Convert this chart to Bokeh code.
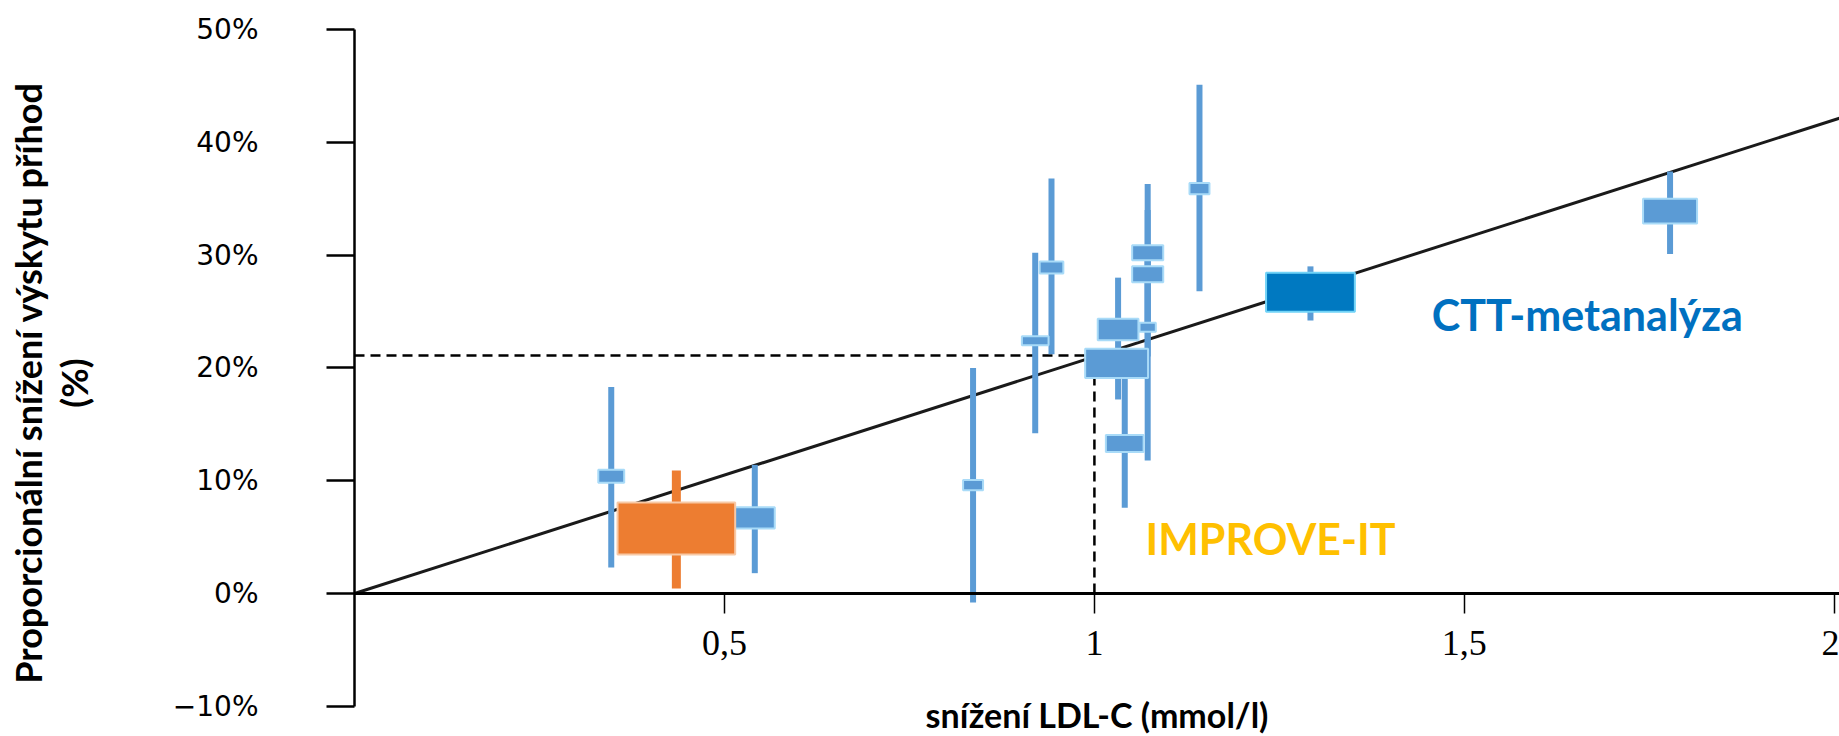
from bokeh.plotting import figure
from bokeh.models import Range1d, LinearAxis, FixedTicker, Label
from bokeh.embed import file_html
from bokeh.resources import INLINE

# ---- data ----
# individual statin trials (blue)
trial_ldl = [0.347, 0.541, 0.836, 0.920, 0.942, 1.030, 1.032, 1.041, 1.072, 1.072, 1.072, 1.142, 1.778]
trial_rr = [10.4, 6.7, 9.6, 22.4, 28.9, 20.4, 23.4, 13.3, 30.2, 28.3, 23.6, 35.9, 33.9]
trial_lo = [2.3, 1.8, -0.8, 14.2, 21.2, 19.3, 17.2, 7.6, 24.0, 21.0, 11.8, 26.8, 30.1]
trial_hi = [18.3, 11.4, 20.0, 30.2, 36.8, 21.5, 28.0, 19.5, 36.3, 34.0, 30.0, 45.1, 37.4]
trial_box_w = [0.035, 0.054, 0.027, 0.036, 0.032, 0.085, 0.055, 0.051, 0.042, 0.042, 0.022, 0.027, 0.073]
trial_box_h = [1.15, 1.9, 0.9, 0.8, 1.06, 2.6, 1.9, 1.5, 1.33, 1.4, 0.8, 1.0, 2.2]

# IMPROVE-IT (orange)
imp_ldl = [0.435]
imp_rr = [5.76]
imp_lo = [0.44]
imp_hi = [10.9]
imp_box_w = [0.159]
imp_box_h = [4.6]

# CTT meta-analysis (dark blue)
ctt_ldl = [1.292]
ctt_rr = [26.7]
ctt_lo = [24.2]
ctt_hi = [29.0]
ctt_box_w = [0.120]
ctt_box_h = [3.46]

# regression line through origin and reference point
line_ldl = [0.0, 2.01]
line_rr = [0.0, 42.2]
ref_ldl = 1.0
ref_rr = 21.1

x_tick_vals = [0.5, 1.0, 1.5, 2.0]
x_tick_labels = ["0,5", "1", "1,5", "2"]
y_tick_vals = [-10, 0, 10, 20, 30, 40, 50]
y_tick_labels = ["\u221210%", "0%", "10%", "20%", "30%", "40%", "50%"]

BLUE = "#5B9BD5"
BLUE_EDGE = "#A9DBF8"
ORANGE = "#ED7D31"
ORANGE_EDGE = "#F8C9A6"
DARK = "#0079C1"
DARK_EDGE = "#71D3F7"

p = figure(width=1839, height=736, output_backend="svg", toolbar_location=None,
           x_range=Range1d(0, 2.007), y_range=Range1d(-12.68, 50),
           x_axis_location=None, y_axis_location="left",
           min_border_left=354, min_border_right=0, min_border_top=29, min_border_bottom=0)
p.outline_line_color = None
p.grid.visible = False
p.background_fill_color = "white"
p.border_fill_color = "white"

# y axis
ya = p.yaxis[0]
ya.bounds = (-10, 50)
ya.ticker = FixedTicker(ticks=y_tick_vals)
ya.major_label_overrides = {v: t for v, t in zip(y_tick_vals, y_tick_labels)}
ya.major_tick_out = 28
ya.major_tick_in = 0
ya.minor_tick_out = 0
ya.minor_tick_in = 0
ya.axis_line_width = 2.5
ya.major_tick_line_width = 2.5
ya.axis_line_color = "black"
ya.major_tick_line_color = "black"
ya.major_label_standoff = 68
ya.major_label_text_font = "DejaVu Sans"
ya.major_label_text_font_size = "28px"
ya.major_label_text_color = "black"
ya.axis_label = "Proporcionální snížení výskytu příhod\n(%)"
ya.axis_label_text_font = "Lato"
ya.axis_label_text_font_style = "bold"
ya.axis_label_text_font_size = "36px"
ya.axis_label_text_color = "black"
ya.axis_label_text_line_height = 1.05
ya.axis_label_standoff = 74

# x axis crossing at y = 0
xa = LinearAxis(fixed_location=0, ticker=FixedTicker(ticks=x_tick_vals))
xa.major_label_overrides = {v: t for v, t in zip(x_tick_vals, x_tick_labels)}
xa.major_tick_out = 20
xa.major_tick_in = 0
xa.minor_tick_out = 0
xa.minor_tick_in = 0
xa.axis_line_width = 3
xa.major_tick_line_width = 1.5
xa.axis_line_color = "black"
xa.major_tick_line_color = "black"
xa.major_label_standoff = 18
xa.major_label_text_font = "Liberation Sans Narrow"
xa.major_label_text_font_size = "36px"
xa.major_label_text_color = "black"
xa.axis_label = "snížení LDL-C (mmol/l)"
xa.axis_label_text_font = "Lato"
xa.axis_label_text_font_style = "bold"
xa.axis_label_text_font_size = "34px"
xa.axis_label_text_color = "black"
xa.axis_label_standoff = 35
p.add_layout(xa, "below")

# reference dashed lines
p.line([0, ref_ldl], [ref_rr, ref_rr], line_color="black", line_width=2.5, line_dash="10 6")
p.line([ref_ldl, ref_ldl], [0, ref_rr], line_color="black", line_width=2.5, line_dash="10 6")

# regression line
p.line(line_ldl, line_rr, line_color="#1a1a1a", line_width=3)

# confidence intervals
p.segment(x0=trial_ldl, y0=trial_lo, x1=trial_ldl, y1=trial_hi, line_color=BLUE, line_width=6)
p.segment(x0=ctt_ldl, y0=ctt_lo, x1=ctt_ldl, y1=ctt_hi, line_color=BLUE, line_width=6)
p.segment(x0=imp_ldl, y0=imp_lo, x1=imp_ldl, y1=imp_hi, line_color=ORANGE, line_width=9)

# boxes
p.rect(x=trial_ldl, y=trial_rr, width=trial_box_w, height=trial_box_h,
       fill_color=BLUE, line_color=BLUE_EDGE, line_width=2)
p.rect(x=imp_ldl, y=imp_rr, width=imp_box_w, height=imp_box_h,
       fill_color=ORANGE, line_color=ORANGE_EDGE, line_width=2)
p.rect(x=ctt_ldl, y=ctt_rr, width=ctt_box_w, height=ctt_box_h,
       fill_color=DARK, line_color=DARK_EDGE, line_width=2)

# labels
p.add_layout(Label(x=1.456, y=24.7, text="CTT-metanalýza", text_font="Lato",
                   text_font_style="bold", text_font_size="43px", text_color="#0070C0",
                   text_baseline="middle", text_align="left"))
p.add_layout(Label(x=1.069, y=4.9, text="IMPROVE-IT", text_font="Lato",
                   text_font_style="bold", text_font_size="43px", text_color="#FFC000",
                   text_baseline="middle", text_align="left"))

open("out.html", "w").write(file_html(p, INLINE))
